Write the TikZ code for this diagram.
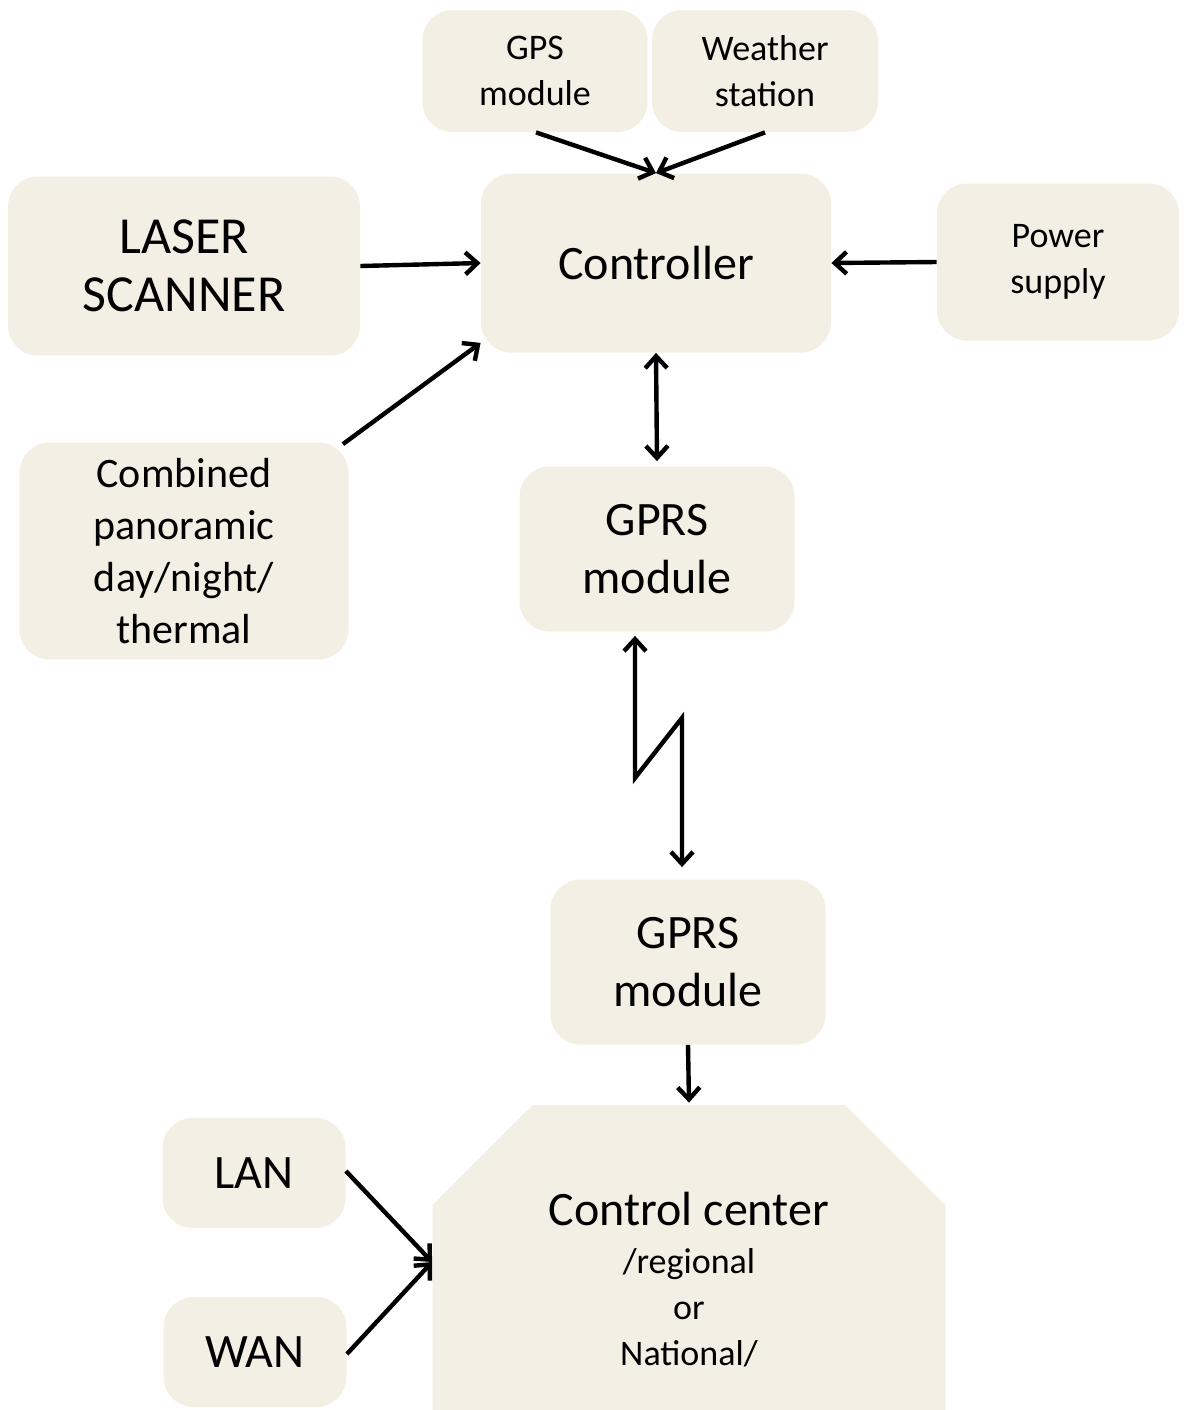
\documentclass[tikz,border=0pt]{standalone}
\usepackage{fontspec}
\setmainfont{Carlito}
\usetikzlibrary{arrows.meta,shapes.misc}
\definecolor{boxfill}{HTML}{F3EFE5}
\newcommand{\hugetxt}{\fontsize{26}{29}\selectfont}
\newcommand{\bigtxt}{\fontsize{24}{29}\selectfont}
\newcommand{\midtxt}{\fontsize{21}{26}\selectfont}
\newcommand{\smalltxt}{\fontsize{18}{23}\selectfont}

\begin{document}
\begin{tikzpicture}[x=0.5pt, y=-0.5pt,
        box/.style={fill=boxfill, rounded corners=15pt, align=center, inner sep=0pt},
        link/.style={line width=2.2pt, -{Straight Barb[length=6pt,width=11pt]}},
        dlink/.style={line width=2.2pt, {Straight Barb[length=6pt,width=11pt]}-{Straight Barb[length=6pt,width=11pt]}}]
        \useasboundingbox (0,0) rectangle (1186,1410);
        \clip (0,0) rectangle (1186,1410);
        \node [box, font=\smalltxt, minimum width=112.5pt, minimum height=61pt] (GPS) at (535,71) {GPS\\module}; 
        \node [box, font=\smalltxt, minimum width=113pt, minimum height=61pt] (WS) at (765,71) {Weather\\station}; 
        \node [box, font=\bigtxt, minimum width=175pt, minimum height=89.5pt] (CTRL) at (656,263) {Controller}; 
        \node [box, font=\hugetxt, minimum width=176pt, minimum height=89.5pt] (LS) at (184,266) {LASER\\SCANNER}; 
        \node [box, font=\smalltxt, minimum width=121pt, minimum height=78.5pt] (PS) at (1058,262) {Power\\supply}; 
        \node [box, font=\midtxt, minimum width=164.5pt, minimum height=108.5pt] (CAM) at (184,551) {Combined\\panoramic\\day/night/\\thermal}; 
        \node [box, font=\bigtxt, minimum width=137.5pt, minimum height=82.5pt] (GPRSa) at (657,549) {GPRS\\module}; 
        \node [box, font=\bigtxt, minimum width=137.5pt, minimum height=82.5pt] (GPRSb) at (688,962) {GPRS\\module}; 
        \node [box, font=\bigtxt, minimum width=91.5pt, minimum height=55pt] (LAN) at (254,1173) {LAN}; 
        \node [box, font=\bigtxt, minimum width=91.5pt, minimum height=55pt] (WAN) at (255,1352) {WAN}; 
        \node [fill=boxfill, font=\smalltxt, chamfered rectangle, chamfered rectangle corners={north west,north east}, chamfered rectangle xsep=25pt, chamfered rectangle ysep=25pt, minimum width=256.5pt, minimum height=175pt, inner sep=0pt, align=center] (CC) at (689,1280) {{\bigtxt Control center}\\[1pt]/regional\\or\\National/}; 
        \draw [link] ([xshift=0.5pt]GPS.south) -- (CTRL.north); 
        \draw [link] (WS.south) -- (CTRL.north); 
        \draw [link] (LS.east) -- (CTRL.west); 
        \draw [link] (PS.west) -- (CTRL.east); 
        \draw [link] ([xshift=-3pt,yshift=-1pt]CAM.north east) -- ([yshift=5pt]CTRL.south west); 
        \draw [dlink] (CTRL.south) -- ([yshift=2.5pt]GPRSa.north); 
        \draw [dlink] ([xshift=-11pt,yshift=-2pt]GPRSa.south) -- ++(0,142) -- ++(47,-60) -- ([xshift=-3pt,yshift=6pt]GPRSb.north); 
        \draw [link] (GPRSb.south) -- ([yshift=1pt]CC.north); 
        \draw [link] ([yshift=1pt]LAN.east) -- ([yshift=9pt]CC.west); 
        \draw [link] ([yshift=-1pt]WAN.east) -- ([yshift=9pt]CC.west); 
\end{tikzpicture}
\end{document}
